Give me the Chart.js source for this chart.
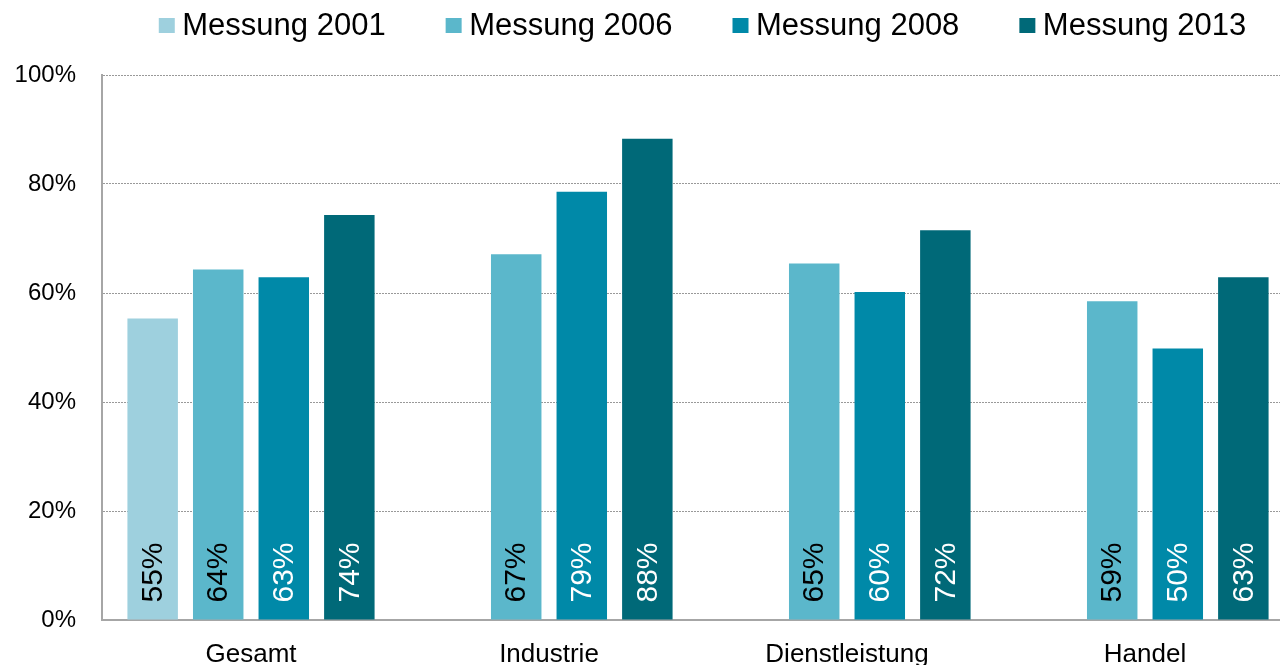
<!DOCTYPE html>
<html>
<head>
<meta charset="utf-8">
<script src="https://cdn.jsdelivr.net/npm/chart.js@4.4.1/dist/chart.umd.min.js"></script>
<style>
  html, body { margin: 0; padding: 0; background: #ffffff; overflow: hidden; }
  #wrap { position: absolute; left: 0; top: 0; width: 1294px; height: 665px; }
</style>
</head>
<body>
<div id="wrap"><canvas id="c" width="1294" height="665"></canvas></div>
<script>
// ---- data ----
const categories = ['Gesamt', 'Industrie', 'Dienstleistung', 'Handel'];
const seriesNames = ['Messung 2001', 'Messung 2006', 'Messung 2008', 'Messung 2013'];
const values2001 = [55.3, null, null, null];
const values2006 = [64.3, 67.1, 65.4, 58.5];
const values2008 = [62.9, 78.6, 60.2, 49.8];
const values2013 = [74.3, 88.3, 71.5, 62.9];
const yTicks = [0, 20, 40, 60, 80, 100];

// ---- styles ----
const FONT = '"Liberation Sans", Arial, Helvetica, sans-serif';
const seriesColors = ['#9ed0de', '#5bb7cb', '#0089a8', '#006978'];
const labelColors = ['#000000', '#000000', '#ffffff', '#ffffff'];

const allValues = [values2001, values2006, values2008, values2013];

const datasets = seriesNames.map((name, i) => ({
  label: name,
  data: allValues[i],
  backgroundColor: seriesColors[i],
  borderWidth: 0,
  categoryPercentage: 0.88,
  barPercentage: 0.77
}));

// value labels drawn rotated at bar base
const barLabelPlugin = {
  id: 'barLabels',
  afterDatasetsDraw(chart) {
    const ctx = chart.ctx;
    chart.data.datasets.forEach((ds, di) => {
      const meta = chart.getDatasetMeta(di);
      meta.data.forEach((bar, idx) => {
        const v = ds.data[idx];
        if (v === null || v === undefined) return;
        ctx.save();
        ctx.translate(bar.x, bar.base - 17);
        ctx.rotate(-Math.PI / 2);
        ctx.font = '30px ' + FONT;
        ctx.fillStyle = labelColors[di];
        ctx.textAlign = 'left';
        ctx.textBaseline = 'middle';
        ctx.fillText(Math.round(v) + '%', 0, 1);
        ctx.restore();
      });
    });
  }
};

// legend drawn with tight box-text spacing
const legendPlugin = {
  id: 'customLegend',
  afterDraw(chart) {
    const ctx = chart.ctx;
    ctx.save();
    ctx.font = '31px ' + FONT;
    const box = 16, boxH = 15, gap = 7.5, spacing = 60;
    const items = chart.data.datasets.map(d => ({ text: d.label, color: d.backgroundColor, w: ctx.measureText(d.label).width }));
    const total = items.reduce((s, it) => s + box + gap + it.w, 0) + spacing * (items.length - 1);
    let x = 702.5 - total / 2;
    items.forEach(it => {
      ctx.fillStyle = it.color;
      ctx.fillRect(x, 18, box, boxH);
      ctx.fillStyle = '#000000';
      ctx.textAlign = 'left';
      ctx.textBaseline = 'alphabetic';
      ctx.fillText(it.text, x + box + gap, 34.5);
      x += box + gap + it.w + spacing;
    });
    ctx.restore();
  }
};

new Chart(document.getElementById('c'), {
  type: 'bar',
  data: { labels: categories, datasets: datasets },
  options: {
    responsive: false,
    animation: false,
    devicePixelRatio: 1,
    layout: { padding: { top: 75, left: 14, right: 0, bottom: 0 } },
    plugins: {
      legend: { display: false },
      tooltip: { enabled: false }
    },
    scales: {
      x: {
        afterFit(scale) { scale.height = 45; },
        grid: { display: false, drawTicks: false },
        border: { display: true, color: '#a6a6a6', width: 2 },
        ticks: { color: '#000000', font: { family: FONT, size: 26 }, padding: 19, maxRotation: 0 }
      },
      y: {
        min: 0,
        max: 100,
        afterBuildTicks(scale) { scale.ticks = yTicks.map(v => ({ value: v })); },
        afterFit(scale) { scale.width = 88; },
        grid: { color: '#999999', lineWidth: 1, drawTicks: false },
        border: { display: true, color: '#a6a6a6', width: 2, dash: [2, 1] },
        ticks: {
          color: '#000000',
          font: { family: FONT, size: 24 },
          padding: 26,
          callback: v => v + '%'
        }
      }
    }
  },
  plugins: [barLabelPlugin, legendPlugin]
});
</script>
</body>
</html>
